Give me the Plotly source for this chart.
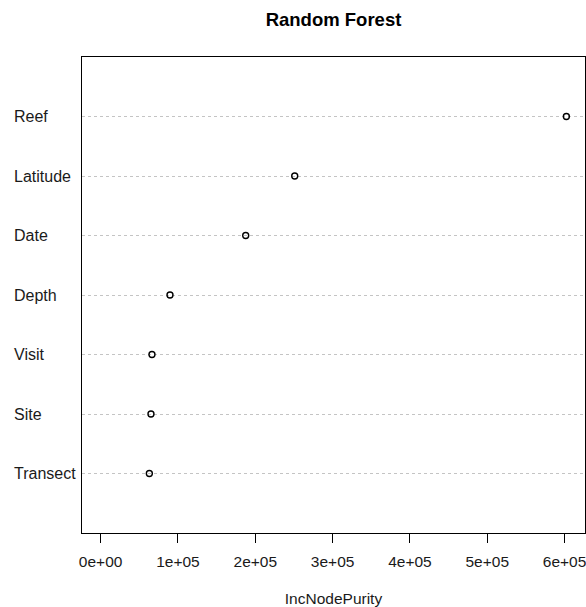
import plotly.graph_objects as go

variables = ["Reef", "Latitude", "Date", "Depth", "Visit", "Site", "Transect"]
inc_node_purity = [602300, 251000, 187600, 89700, 66400, 65100, 63000]
x_tick_values = [0, 100000, 200000, 300000, 400000, 500000, 600000]
x_tick_labels = ["0e+00", "1e+05", "2e+05", "3e+05", "4e+05", "5e+05", "6e+05"]

n = len(variables)
y_pos = [n - i for i in range(n)]
xmax = max(inc_node_purity)
xr = [-0.04 * xmax, 1.04 * xmax]

FONT = "Liberation Sans, Arial, sans-serif"

fig = go.Figure()
fig.add_trace(go.Scatter(
    x=inc_node_purity, y=y_pos, mode="markers",
    marker=dict(symbol="circle-open", size=6, color="black", line=dict(width=1.4, color="black")),
    showlegend=False, hoverinfo="skip",
))

for v, yp in zip(variables, y_pos):
    fig.add_annotation(
        x=(12 - 82) / (585 - 82), xref="paper", y=yp, yref="y",
        text=v, showarrow=False, xanchor="left", yanchor="middle",
        font=dict(family=FONT, size=16, color="#1a1a1a"),
    )

fig.update_layout(
    width=586, height=607,
    margin=dict(l=82, r=1, t=57, b=74),
    paper_bgcolor="white", plot_bgcolor="white",
    title=dict(text="<b>Random Forest</b>", x=333.5 / 586, xanchor="center",
               y=1 - 20 / 607, yref="container", yanchor="middle",
               font=dict(family=FONT, size=18.5, color="black")),
    font=dict(family=FONT, color="#1a1a1a"),
)
fig.update_xaxes(
    range=xr, tickvals=x_tick_values, ticktext=x_tick_labels,
    ticks="outside", ticklen=9, tickwidth=1, tickcolor="black",
    ticklabelstandoff=5, ticklabeloverflow="allow",
    tickfont=dict(family=FONT, size=15.5, color="#1a1a1a"),
    showgrid=False, zeroline=False,
    showline=True, mirror=True, linecolor="black", linewidth=1,
    title=dict(text="IncNodePurity", font=dict(family=FONT, size=15.5, color="#1a1a1a"), standoff=27),
    automargin=False,
)
fig.update_yaxes(
    range=[0, n + 1], tickvals=y_pos, showticklabels=False, ticks="",
    showgrid=True, gridcolor="#c4c4c4", griddash="dot", gridwidth=1,
    zeroline=False, showline=True, mirror=True, linecolor="black", linewidth=1,
    automargin=False,
)

fig.write_html(
    "out.html",
    config={"displayModeBar": False},
    post_script="document.body.style.margin='0';document.body.style.overflow='hidden';",
)
